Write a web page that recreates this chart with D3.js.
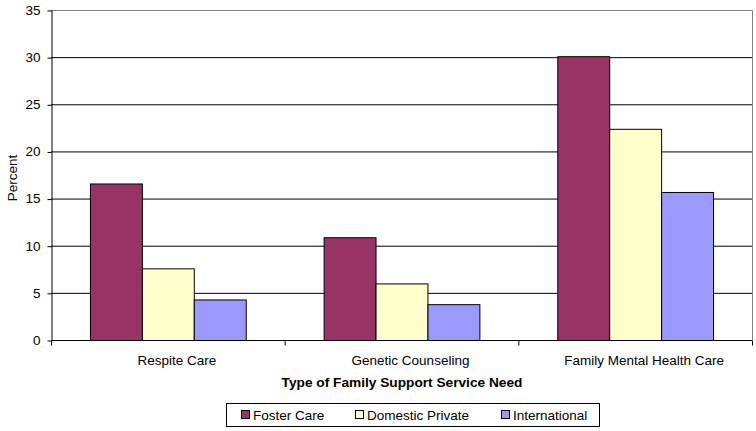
<!DOCTYPE html>
<html>
<head>
<meta charset="utf-8">
<script src="https://cdn.jsdelivr.net/npm/d3@7"></script>
<style>
  body { margin: 0; background: #fff; }
  text { font-family: "Liberation Sans", Arial, sans-serif; font-size: 13.5px; fill: #000; }
</style>
</head>
<body>
<div id="chart"></div>
<script>
// chart data
var categories = ["Respite Care", "Genetic Counseling", "Family Mental Health Care"];
var seriesNames = ["Foster Care", "Domestic Private", "International"];
var fosterCare = [16.6, 10.9, 30.1];
var domesticPrivate = [7.6, 6.0, 22.4];
var international = [4.3, 3.8, 15.7];
var yTicks = [0, 5, 10, 15, 20, 25, 30, 35];
var colors = ["#993366", "#FFFFCC", "#9999FF"];

var W = 756, H = 431;
var margin = {top: 10, right: 4, bottom: 91, left: 51};
var innerW = W - margin.left - margin.right;
var innerH = H - margin.top - margin.bottom;

var svg = d3.select('#chart').append('svg')
  .attr('width', W)
  .attr('height', H);

var g = svg.append('g').attr('transform', 'translate(' + margin.left + ',' + margin.top + ')');

var x = d3.scaleBand().domain(categories).range([0, innerW]).paddingInner(0).paddingOuter(0);
// gap width 150% -> group is 3/4.5 of the band
var x1 = d3.scaleBand().domain(seriesNames).range([0, x.bandwidth()]).paddingInner(0).paddingOuter(0.75);
var y = d3.scaleLinear().domain([0, 35]).range([innerH, 0]);

// grid lines
g.selectAll('.grid').data(yTicks.filter(function(d) { return d > 0 && d < 35; }))
  .enter().append('line')
  .attr('x1', 0).attr('x2', innerW)
  .attr('y1', function(d) { return y(d) + 0.5; })
  .attr('y2', function(d) { return y(d) + 0.5; })
  .attr('stroke', '#000').attr('stroke-width', 1);

// plot border (top/right gray)
g.append('line').attr('x1', 0).attr('x2', innerW + 0.5).attr('y1', 0.5).attr('y2', 0.5)
  .attr('stroke', '#808080');
g.append('line').attr('x1', innerW + 0.5).attr('x2', innerW + 0.5).attr('y1', 0).attr('y2', innerH)
  .attr('stroke', '#808080');

// bars
var rows = categories.map(function(c, i) {
  return [fosterCare[i], domesticPrivate[i], international[i]];
});
var groups = g.selectAll('.grp').data(rows).enter().append('g')
  .attr('transform', function(d, i) { return 'translate(' + x(categories[i]) + ',0)'; });
groups.selectAll('rect').data(function(d) { return d; })
  .enter().append('rect')
  .attr('x', function(d, j) { return x1(seriesNames[j]) + 0.5; })
  .attr('y', function(d) { return y(d) + 0.5; })
  .attr('width', x1.bandwidth())
  .attr('height', function(d) { return innerH - y(d); })
  .attr('fill', function(d, j) { return colors[j]; })
  .attr('stroke', '#000').attr('stroke-width', 1);

// y axis
var yAxis = g.append('g').attr('transform', 'translate(0.5,0)')
  .call(d3.axisLeft(y).tickValues(yTicks).tickSize(4).tickPadding(7).tickSizeOuter(0));
yAxis.select('.domain').attr('stroke', '#000');
yAxis.selectAll('.tick line').attr('transform', 'translate(0,0.5)');
yAxis.selectAll('text').style('font-size', '13.5px').style('font-family', '"Liberation Sans", Arial, sans-serif');

// x axis
var xAxis = g.append('g').attr('transform', 'translate(0,' + (innerH + 0.5) + ')');
xAxis.append('line').attr('x1', 0).attr('x2', innerW).attr('stroke', '#000');
xAxis.selectAll('.xt').data(d3.range(categories.length + 1))
  .enter().append('line')
  .attr('x1', function(i) { return i * x.step() + 0.5; })
  .attr('x2', function(i) { return i * x.step() + 0.5; })
  .attr('y1', 0).attr('y2', 5)
  .attr('stroke', '#000');
// labels sit a little right of band centre, as in the original
xAxis.selectAll('.xl').data(categories).enter().append('text')
  .attr('x', function(d) { return x(d) + x.bandwidth() / 2 + 9; })
  .attr('y', 24)
  .attr('text-anchor', 'middle')
  .text(function(d) { return d; });

// axis titles
svg.append('text')
  .attr('x', 402).attr('y', 387)
  .attr('text-anchor', 'middle')
  .style('font-weight', 'bold')
  .style('font-size', '13.7px')
  .text('Type of Family Support Service Need');
svg.append('text')
  .attr('transform', 'translate(17,' + (margin.top + innerH / 2 + 3) + ') rotate(-90)')
  .attr('text-anchor', 'middle')
  .text('Percent');

// legend
var legend = svg.append('g');
legend.append('rect').attr('x', 226.5).attr('y', 403.5).attr('width', 373).attr('height', 23)
  .attr('fill', '#fff').attr('stroke', '#000');
var legX = [241, 355, 501];
var items = legend.selectAll('.li').data(seriesNames).enter().append('g')
  .attr('transform', function(d, i) { return 'translate(' + legX[i] + ',0)'; });
items.append('rect').attr('x', 0.5).attr('y', 410.5).attr('width', 8).attr('height', 8)
  .attr('fill', function(d, i) { return colors[i]; })
  .attr('stroke', '#000');
items.append('text').attr('x', 12).attr('y', 420).text(function(d) { return d; });
</script>
</body>
</html>
